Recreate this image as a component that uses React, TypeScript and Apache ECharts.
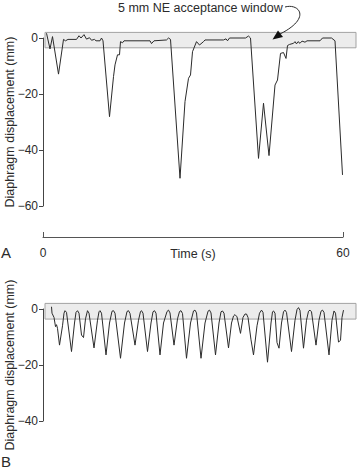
import React, { useEffect, useRef } from "react";
import * as echarts from "echarts";

// ---- data ----
const timeRange = [0, 60];
const yRangeA = [-60, 0];
const yRangeB = [-40, 0];
const yTickStep = 20;
// acceptance window: [tStart, top(mm), tEnd, bottom(mm)]
const windowA = [[0.4, 2, 62.6, -3.5]];
const windowB = [[0.4, 2, 62.6, -3.6]];
const annotationText = "5 mm NE acceptance window";
const yAxisTitle = "Diaphragm displacement (mm)";
const xAxisTitle = "Time (s)";

// Panel A: [time (s), displacement (mm)]
const traceA: number[][] = [
  [0.7, 1.7], [1.4, -3.9], [1.9, 0.5], [3.1, -12.9], [4.1, -0.5], [4.5, -1.0], [5.0, -0.5],
  [6.7, -0.5], [7.2, 0.8], [7.6, 0], [8.2, 1.2], [8.7, -0.4], [9.3, 0.1], [9.7, -0.8],
  [10.3, -0.5], [10.6, -1.0], [11.4, -1.0], [11.7, 0], [12.0, -1.0], [13.3, -28.1],
  [14.1, -13.8], [14.4, -9.6], [14.9, -6], [15.3, -6], [15.5, -1.3], [15.9, -1.7],
  [16.2, -1.0], [21.4, -1.0], [21.7, -2.0], [22.2, -1.0], [24.7, -0.7], [25.1, 0],
  [25.5, -0.5], [27.4, -50.1], [28.4, -22.7], [29.1, -14.4], [29.5, -13.2], [29.9, -4.9],
  [30.7, -1.3], [31.3, -2.5], [32.1, -1.3], [32.4, -0.7], [36.1, -0.7], [36.6, -0.3],
  [36.9, -1.0], [37.3, 0], [40.5, 0], [41.1, 0.7], [41.5, 0], [43.1, -43], [44.1, -23.3],
  [45.2, -42], [46.4, -16.8], [46.9, -15], [47.5, -5.5], [48.1, -5.2], [48.6, -7.3],
  [48.9, -2.7], [49.3, -2.3], [50.1, -1.9], [50.4, -1.3], [50.7, -2.1], [51.0, -1.3],
  [51.4, -1.9], [51.8, -1.1], [52.4, -1.5], [52.8, -1.0], [55.4, -1.0], [55.9, 0],
  [57.7, 0], [58.4, -1.0], [59.9, -48.9],
];

// Panel B: [time (s), displacement (mm)]
const traceB: number[][] = [
  [1.7, 0.8], [1.8, -1.5], [2.2, -3], [2.5, -6.3], [2.7, -5.6], [2.9, -6.9], [3.3, -12.9],
  [3.9, -6], [4.2, -1.5], [4.4, -0.6], [4.7, -1.2], [5.7, -15.2], [6.3, -5], [6.6, -1.2],
  [6.9, -0.6], [7.2, -1.5], [7.7, -9.3], [8.1, -10.2], [8.5, -3.5], [8.9, -0.6], [9.2, -1.5],
  [10.2, -13.9], [10.9, -4], [11.2, -1], [11.4, -0.6], [11.7, -1.5], [12.6, -16.4],
  [13.3, -5], [13.8, -0.8], [14.1, -0.6], [14.4, -1.5], [15.5, -17.6], [16.3, -5],
  [16.8, -0.9], [17.1, -0.6], [17.4, -1.6], [18.4, -12.9], [19.1, -4], [19.5, -0.9],
  [19.7, -0.6], [20.0, -1.5], [20.9, -15.2], [21.6, -5], [22.0, -1], [22.3, -0.6],
  [22.6, -1.5], [23.4, -16.4], [24.1, -5], [24.8, -0.9], [25.1, -0.4], [25.4, -1.4],
  [26.2, -12.9], [26.9, -3.5], [27.3, -0.9], [27.6, -0.6], [27.9, -1.6], [28.7, -17.6],
  [29.5, -5], [30.1, -0.7], [30.4, -0.4], [30.7, -1.4], [31.6, -17.6], [32.4, -5],
  [33.0, -0.8], [33.3, -0.4], [33.6, -1.4], [34.5, -16.4], [35.2, -5], [35.6, -1],
  [35.9, -0.7], [36.2, -1.5], [37.1, -13.9], [37.7, -5], [38.1, -2.5], [38.4, -2],
  [38.8, -2.8], [39.5, -8.7], [40.0, -3], [40.4, -1.8], [40.7, -1.8], [41.0, -3],
  [41.6, -11], [42.1, -16.4], [42.8, -6], [43.3, -1.5], [43.7, -0.4], [44.0, -1.2],
  [44.9, -19], [45.6, -5], [45.9, -1], [46.1, -0.7], [46.4, -1.5], [46.8, -12], [47.2, -14],
  [47.7, -5], [48.1, -1], [48.4, -0.4], [48.7, -1.2], [49.7, -15.2], [50.4, -4],
  [50.8, -0.2], [51.1, 0.5], [51.4, -0.5], [52.1, -14], [52.7, -4], [53.1, -0.8],
  [53.4, -0.4], [53.7, -1], [54.6, -12.9], [55.2, -4], [55.6, -0.8], [55.9, -0.4],
  [56.2, -1.2], [57.2, -16.4], [57.8, -4], [58.2, -0.7], [58.5, -1.5], [59.1, -11.8],
  [59.5, -11.2], [59.8, -3], [60.1, -0.4],
];

const FONT = "'Liberation Sans', Arial, Helvetica, sans-serif";
const INK = "#2b2b2b";
const AXIS = "#444";

const fmtY = (v: number) => (v < 0 ? "\u2212" + Math.abs(v) : String(v));

function yAxisOf(gridIndex: number, range: number[]) {
  return {
    type: "value",
    gridIndex,
    min: range[0],
    max: range[1],
    interval: yTickStep,
    name: yAxisTitle,
    nameLocation: "middle",
    nameGap: 27,
    nameMoveOverlap: false,
    nameTextStyle: { fontFamily: FONT, fontSize: 12.5, color: INK },
    axisLine: { show: true, onZero: false, lineStyle: { color: AXIS, width: 1 } },
    axisTick: { show: true, length: 4, lineStyle: { color: AXIS } },
    axisLabel: { margin: 5, fontFamily: FONT, fontSize: 12, color: INK, formatter: fmtY },
    splitLine: { show: false },
  };
}

function windowSeries(xAxisIndex: number, yAxisIndex: number, data: number[][]) {
  return {
    type: "custom",
    xAxisIndex,
    yAxisIndex,
    clip: false,
    silent: true,
    z: 1,
    encode: { x: [0, 2], y: [1, 3] },
    data,
    renderItem: (_p: any, api: any) => {
      const a = api.coord([api.value(0), api.value(1)]);
      const b = api.coord([api.value(2), api.value(3)]);
      return {
        type: "rect",
        shape: { x: a[0], y: a[1], width: b[0] - a[0], height: b[1] - a[1] },
        style: { fill: "#ececec", stroke: "#a3a3a3", lineWidth: 1 },
      };
    },
  };
}

function traceSeries(idx: number, data: number[][]) {
  return {
    type: "line",
    xAxisIndex: idx,
    yAxisIndex: idx,
    data,
    clip: false,
    symbol: "none",
    z: 3,
    lineStyle: { color: INK, width: 1 },
  };
}

export default function App() {
  const ref = useRef<HTMLDivElement>(null);
  useEffect(() => {
    if (!ref.current) return;
    const chart = echarts.init(ref.current, null, { renderer: "svg" });
    chart.setOption({
      animation: false,
      backgroundColor: "#fff",
      grid: [
        { left: 43, top: 38, width: 300, height: 168, outerBoundsMode: "none" },
        { left: 43, top: 309, width: 300, height: 112, outerBoundsMode: "none" },
      ],
      xAxis: [
        {
          type: "value",
          gridIndex: 0,
          min: timeRange[0],
          max: timeRange[1],
          interval: timeRange[1] - timeRange[0],
          position: "bottom",
          offset: 31,
          name: xAxisTitle,
          nameLocation: "middle",
          nameGap: 10,
          nameMoveOverlap: false,
          nameTextStyle: { fontFamily: FONT, fontSize: 12.5, color: INK, verticalAlign: "top" },
          axisLine: { show: true, onZero: false, lineStyle: { color: "#555", width: 1 } },
          axisTick: { show: true, inside: true, length: 5, lineStyle: { color: "#555" } },
          axisLabel: { margin: 10, fontFamily: FONT, fontSize: 12, color: INK },
          splitLine: { show: false },
        },
        {
          type: "value",
          gridIndex: 1,
          min: timeRange[0],
          max: timeRange[1],
          show: false,
          splitLine: { show: false },
        },
      ],
      yAxis: [yAxisOf(0, yRangeA), yAxisOf(1, yRangeB)],
      series: [
        windowSeries(0, 0, windowA),
        windowSeries(1, 1, windowB),
        traceSeries(0, traceA),
        traceSeries(1, traceB),
      ],
      graphic: [
        {
          type: "text",
          left: 118,
          top: 1,
          style: { text: annotationText, font: `12.5px ${FONT}`, fill: INK },
        },
        {
          type: "bezierCurve",
          z: 10,
          shape: { x1: 285, y1: 7, cpx1: 299, cpy1: 3, cpx2: 312, cpy2: 18, x2: 280, y2: 34 },
          style: { stroke: INK, lineWidth: 1, fill: null },
        },
        {
          type: "polygon",
          z: 10,
          shape: { points: [[272.5, 39.5], [283, 37], [278, 30.5]] },
          style: { fill: "#111" },
        },
        {
          type: "text",
          left: 1,
          top: 245,
          style: { text: "A", font: `15px ${FONT}`, fill: INK },
        },
        {
          type: "text",
          left: 1,
          top: 454,
          style: { text: "B", font: `15px ${FONT}`, fill: INK },
        },
      ],
    });
    return () => chart.dispose();
  }, []);
  return (
    <div
      ref={ref}
      style={{ position: "fixed", left: 0, top: 0, width: 357, height: 470, background: "#fff" }}
    />
  );
}
